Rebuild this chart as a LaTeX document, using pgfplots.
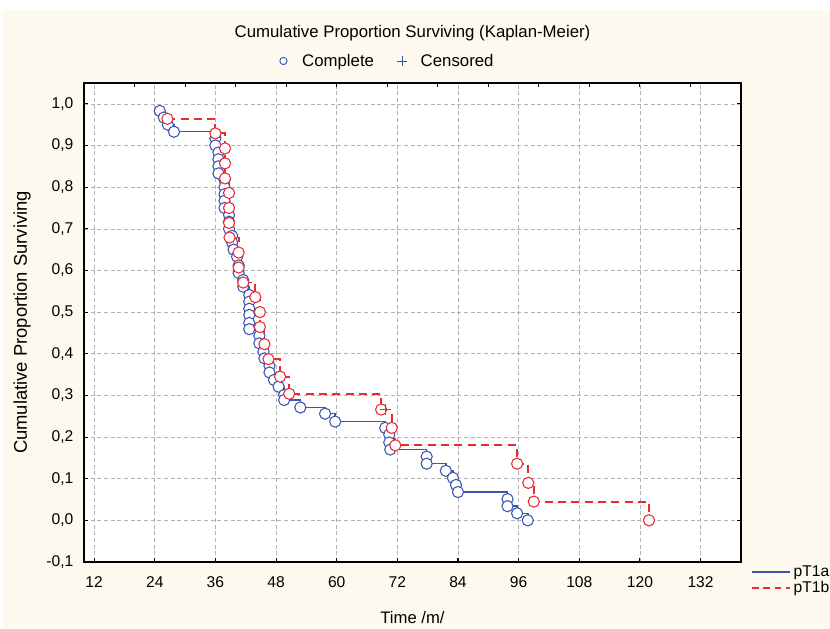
\documentclass[border=0pt]{standalone}
\usepackage{fontspec}
\setmainfont{Liberation Sans}
\usepackage{pgfplots}
\usepackage{pgfplotstable}
\pgfplotsset{compat=1.18}
\definecolor{bgcream}{RGB}{253,249,238}
\definecolor{kmblue}{RGB}{58,86,178}
\definecolor{kmred}{RGB}{234,44,48}

% Kaplan-Meier steps: time (months), cumulative proportion surviving
\pgfplotstableread{
t S
25.0 0.983
25.8 0.967
26.6 0.950
27.8 0.933
36.0 0.917
36.0 0.900
36.6 0.883
36.6 0.867
36.6 0.850
36.6 0.833
37.8 0.817
37.8 0.800
37.8 0.783
37.8 0.767
37.8 0.750
38.7 0.733
38.7 0.717
38.7 0.700
39.3 0.683
39.3 0.667
39.6 0.650
40.3 0.633
40.6 0.612
40.6 0.594
41.5 0.577
41.5 0.561
42.7 0.541
42.7 0.525
42.7 0.508
42.7 0.493
42.7 0.474
42.7 0.459
44.7 0.443
44.7 0.425
45.5 0.405
45.7 0.389
46.7 0.371
46.7 0.355
47.6 0.337
48.5 0.321
49.6 0.301
49.6 0.289
52.8 0.271
57.7 0.256
59.7 0.237
69.6 0.222
70.4 0.206
70.4 0.187
70.6 0.170
77.8 0.153
77.8 0.136
81.6 0.119
83.0 0.102
83.6 0.085
84.0 0.068
93.8 0.051
93.8 0.034
95.7 0.017
97.8 0.000
}\pTa

\pgfplotstableread{
t S
26.5 0.964
36.0 0.929
37.9 0.893
37.9 0.857
37.9 0.821
38.7 0.786
38.7 0.750
38.7 0.714
38.8 0.679
40.6 0.643
40.6 0.607
41.5 0.571
43.9 0.536
44.8 0.500
44.8 0.464
45.7 0.423
46.5 0.387
48.8 0.345
50.6 0.304
68.8 0.266
70.9 0.222
71.6 0.180
95.7 0.136
97.9 0.090
99.0 0.045
121.8 0.000
}\pTb

\begin{document}
\begin{tikzpicture}[font=\fontsize{11.7}{14}\selectfont]
\path[use as bounding box, fill=bgcream] (-63pt,-49.5pt) rectangle (559.5pt,421.5pt);
\fill[white] (-63pt,414pt) rectangle (559.5pt,421.5pt);
\fill[white] (-63pt,-49.5pt) rectangle (-60.75pt,421.5pt);
\pgfplotsset{kmbase/.style={
  scale only axis, width=492.75pt, height=359.25pt,
  at={(0pt,0pt)}, anchor=south west,
  xmin=10, xmax=140, ymin=-0.1, ymax=1.05,
  tick style={black, line width=0.8pt},
  major tick length=3pt,
  /pgf/number format/assume math mode=true}}

\begin{axis}[kmbase,
  axis background/.style={fill=white},
  axis line style={black, line width=1.1pt},
  xtick={12,24,...,132}, xtick pos=left,
  ytick={-0.1,0,0.1,0.2,0.3,0.4,0.5,0.6,0.7,0.8,0.9,1.0},
  yticklabels={{-0,1},{0,0},{0,1},{0,2},{0,3},{0,4},{0,5},{0,6},{0,7},{0,8},{0,9},{1,0}},
  tick align=inside,
  grid=major,
  major grid style={densely dashed, black!30, line width=0.4pt},
  yticklabel style={xshift=-4.5pt},
  xticklabel style={yshift=-7.5pt},
  xlabel={Time /m/},
  ylabel={Cumulative Proportion Surviving},
  every axis x label/.style={at={(axis description cs:0.5,0)}, anchor=center, yshift=-42pt,
    font=\fontsize{12.5}{15}\selectfont},
  every axis y label/.style={at={(axis description cs:0,0.5)}, anchor=center, xshift=-46.5pt, rotate=90,
    font=\fontsize{13.8}{16}\selectfont},
  legend style={at={(axis description cs:1,0)}, anchor=north west, xshift=4.5pt, yshift=1.5pt,
    draw=none, fill=none, row sep=-2pt, font=\fontsize{11.7}{14}\selectfont},
  legend cell align=left,
]
\addplot[const plot, color=kmblue, line width=1.15pt, mark=*, mark size=4.2pt,
  mark options={solid, fill=white, draw=kmblue, line width=0.8pt}, forget plot] table[x=t, y=S] {\pTa};
\addplot[const plot, color=kmred, line width=1.4pt, dash pattern=on 6pt off 4pt, mark=*, mark size=4.2pt,
  mark options={solid, fill=white, draw=kmred, line width=0.8pt}, forget plot] table[x=t, y=S] {\pTb};
\addplot[only marks, mark=+, mark size=4pt, color=kmred, mark options={line width=0.9pt}, forget plot]
  coordinates {(69.6,0.266)};
\addlegendimage{legend image code/.code={\draw[color=kmblue, line width=1.1pt] (0pt,0pt) -- (28.5pt,0pt);}}
\addlegendentry{pT1a}
\addlegendimage{legend image code/.code={\draw[color=kmred, line width=1.3pt, dash pattern=on 5pt off 3.5pt] (0pt,0pt) -- (28.5pt,0pt);}}
\addlegendentry{pT1b}
\end{axis}

\begin{axis}[kmbase,
  axis x line*=top, axis y line=none,
  axis line style={black, line width=1.1pt},
  tick align=inside,
  xtick={20,30,...,130}, xticklabels={},
  title={Cumulative Proportion Surviving (Kaplan-Meier)},
  every axis title/.style={at={(axis description cs:0.5,1)}, anchor=center, yshift=37.5pt,
    font=\fontsize{12.6}{15}\selectfont},
  legend columns=2,
  legend style={at={(axis description cs:0.5,1)}, anchor=center, xshift=-19pt, yshift=16.5pt,
    draw=none, fill=none, font=\fontsize{12.6}{15}\selectfont,
    /tikz/every even column/.append style={column sep=15pt}},
]
\addlegendimage{legend image code/.code={\path[draw=none] (0pt,0pt) -- (16pt,0pt);
  \draw[color=kmblue, line width=0.7pt] (4pt,0pt) circle (2.7pt);}}
\addlegendentry{Complete}
\addlegendimage{legend image code/.code={\path[draw=none] (0pt,0pt) -- (16pt,0pt);
  \draw[color=kmblue, line width=0.7pt] (0.5pt,0pt) -- (7.5pt,0pt) (4pt,-3.5pt) -- (4pt,3.5pt);}}
\addlegendentry{Censored}
\end{axis}
\end{tikzpicture}
\end{document}
